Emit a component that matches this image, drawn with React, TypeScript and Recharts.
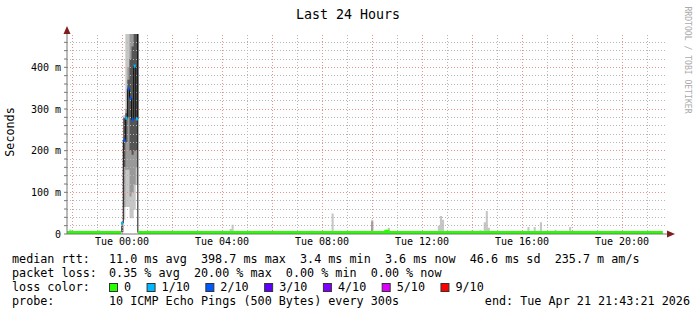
import React from "react";
import {
  ComposedChart,
  Area,
  Line,
  XAxis,
  YAxis,
  ReferenceLine,
  ReferenceDot,
} from "recharts";

const FONT = "'DejaVu Sans Mono', monospace";
const W = 697;
const H = 315;

// time axis in minutes relative to Tue 00:00, one sample every 5 minutes
const X_START = -132;
const X_END = 1308;
const STEP = 5;
const xLabelMinutes = [0, 240, 480, 720, 960, 1200];
const xLabels = ["Tue 00:00", "Tue 04:00", "Tue 08:00", "Tue 12:00", "Tue 16:00", "Tue 20:00"];
const xMinorGrid = [-60, 60, 180, 300, 420, 540, 660, 780, 900, 1020, 1140, 1260];
const xMajorGrid = [-120, 0, 120, 240, 360, 480, 600, 720, 840, 960, 1080, 1200];

// value axis in ms
const Y_MAX = 480;
const yTicks = [0, 20, 40, 60, 80, 100, 120, 140, 160, 180, 200, 220, 240, 260, 280, 300, 320, 340, 360, 380, 400, 420, 440, 460];
const yLabelValues = [0, 100, 200, 300, 400];
const yLabels = ["0", "100 m", "200 m", "300 m", "400 m"];
const yMinorGrid = [20, 40, 60, 80, 120, 140, 160, 180, 220, 240, 260, 280, 320, 340, 360, 380, 420, 440, 460];
const yMajorGrid = [100, 200, 300, 400];

// median rtt outside the outage
const BASE = 3.5;
const medianEnd = 1298;
const bumpMinutes = [633];
const bumpValues = [6.5];

// isolated smoke spikes (sample start, max ping in ms)
const spikeMinutes = [-127, -122, -57, 258, 263, 393, 453, 503, 598, 633, 638, 758, 763, 768, 773, 838, 843, 858, 868, 873, 878, 918, 943, 973, 988, 998, 1003, 1008, 1038, 1073, 1098, 1183, 1198];
const spikeMax = [11, 9, 9, 12, 22, 7, 8, 49, 34, 10, 15, 20, 43, 34, 7, 9, 5, 9, 28, 55, 15, 6, 6, 17, 17, 8, 28, 7, 10, 17, 6, 8, 6];
const denseSpikeMinutes = [598];
const denseSpikeMax = [30];

// the outage just after midnight
const eventMinutes = [-2, 3, 8, 13, 18, 23, 28, 33];
const eventEnd = 38;
const eventMedian = [26, 225, 278, 348, 326, 274, 403, 276];
const eventLoss = [1, 2, 1, 2, 2, 2, 1, 1];
const eventOuter: [number, number][] = [[3.5, 26], [34, 285], [65, 480], [65, 480], [38, 480], [38, 480], [58, 480], [118, 480]];
const eventMid: [number, number][] = [[3.5, 24], [65, 281], [154, 300], [154, 400], [90, 480], [100, 480], [118, 480], [160, 480]];
const eventCore: [number, number][] = [[5, 20], [161, 278], [220, 290], [280, 370], [200, 420], [190, 450], [200, 480], [200, 480]];
const edgeTop = 480;

// legend
const lossSteps = [0, 1, 2, 3, 4, 5, 9];
const lossLabels = ["0", "1/10", "2/10", "3/10", "4/10", "5/10", "9/10"];
const lossColors = ["#26ff00", "#00b8ff", "#0059ff", "#5e00ff", "#7e00ff", "#dd00ff", "#ff0000"];
const rttStats = ["11.0 ms avg", "398.7 ms max", "3.4 ms min", "3.6 ms now", "46.6 ms sd", "235.7 m am/s"];
const lossStats = ["0.35 % avg", "20.00 % max", "0.00 % min", "0.00 % now"];
const probeText = "10 ICMP Echo Pings (500 Bytes) every 300s";
const endText = "end: Tue Apr 21 21:43:21 2026";

type Band = [number, number];
type Row = { m: number; L: Band; M: Band; D: Band };

const rowMap = new Map<number, Row>();
const row = (m: number) => {
  if (!rowMap.has(m)) rowMap.set(m, { m, L: [BASE, BASE], M: [BASE, BASE], D: [BASE, BASE] });
  return rowMap.get(m)!;
};
row(X_START);
row(X_END);
spikeMinutes.forEach((m) => row(m + STEP));
row(eventEnd);
spikeMinutes.forEach((m, i) => {
  row(m).L = [BASE, spikeMax[i]];
});
denseSpikeMinutes.forEach((m, i) => {
  row(m).M = [BASE, denseSpikeMax[i]];
});
eventMinutes.forEach((m, i) => {
  const r = row(m);
  r.L = eventOuter[i];
  r.M = eventMid[i];
  r.D = eventCore[i];
});
const smoke = [...rowMap.values()].sort((a, b) => a.m - b.m);

const medianLine = [
  { m: X_START, v: BASE },
  { m: eventMinutes[0], v: BASE },
  { m: eventMinutes[0], v: null },
  { m: eventEnd, v: null },
  { m: eventEnd, v: BASE },
  ...bumpMinutes.flatMap((m, i) => [
    { m, v: bumpValues[i] },
    { m: m + STEP, v: BASE },
  ]),
  { m: medianEnd, v: BASE },
];

const rttEdge = [
  ...eventMinutes.map((m, i) => ({ m, v: eventMedian[i] })),
  { m: eventEnd, v: edgeTop },
  { m: eventEnd, v: BASE },
];

const medianDots = eventMinutes.map((m, i) => ({ m: m + STEP / 2, v: eventMedian[i], loss: eventLoss[i] }));

const LossDot = (props: any) => {
  const { cx, cy, payload, index } = props;
  if (cx == null || cy == null) return <g key={`d-${index}`} />;
  const color = lossColors[lossSteps.indexOf(payload.loss)];
  return <rect key={`d-${index}`} x={cx - 1.1} y={cy - 1.5} width={2.2} height={3} fill={color} />;
};

const ARROW = "#7f1d1d";
const AXIS = "#777777";
const MINOR = "#b6b6b6";
const MAJOR = "#e99090";
const DASH = "1 2";

const UpArrow = (props: any) => (
  <polygon
    points={`${props.cx - 3.5},${props.cy} ${props.cx},${props.cy - 8} ${props.cx + 3.5},${props.cy}`}
    fill={ARROW}
  />
);
const RightArrow = (props: any) => (
  <polygon
    points={`${props.cx},${props.cy - 3.5} ${props.cx + 8},${props.cy} ${props.cx},${props.cy + 3.5}`}
    fill={ARROW}
  />
);

const CHAR = 7.07;
const COL = 109;

const Txt = (p: { x: number; y: number; anchor?: string; children: string }) => (
  <text x={p.x} y={p.y} textAnchor={p.anchor ?? "start"} xmlSpace="preserve" style={{ whiteSpace: "pre" }}>
    {p.children}
  </text>
);

export default function App() {
  let sx = COL;
  const squares = lossLabels.map((label, i) => {
    const x = sx;
    sx += 15 + label.length * CHAR + 15.5;
    return { x, label, color: lossColors[i] };
  });

  return (
    <div style={{ position: "absolute", left: 0, top: 0, width: W, height: H, background: "#fff" }}>
      <ComposedChart
        width={W}
        height={H}
        data={smoke}
        margin={{ top: 34, right: 30, bottom: 61, left: 0 }}
      >
        <XAxis
          dataKey="m"
          type="number"
          domain={[X_START, X_END]}
          allowDataOverflow
          ticks={xLabelMinutes}
          tickFormatter={(m: number) => xLabels[xLabelMinutes.indexOf(m)] ?? ""}
          tickLine={false}
          tickSize={2}
          tickMargin={2}
          height={20}
          axisLine={{ stroke: AXIS }}
          tick={{ fill: "#000", fontSize: 10, fontFamily: FONT }}
        />
        <YAxis
          type="number"
          domain={[0, Y_MAX]}
          allowDataOverflow
          ticks={yTicks}
          interval={0}
          tickFormatter={(v: number) => yLabels[yLabelValues.indexOf(v)] ?? ""}
          tickSize={3}
          tickMargin={3}
          width={67}
          axisLine={{ stroke: AXIS }}
          tickLine={{ stroke: AXIS }}
          tick={{ fill: "#000", fontSize: 10, fontFamily: FONT }}
        />
        {yMinorGrid.map((v) => (
          <ReferenceLine key={`hm${v}`} y={v} stroke={MINOR} strokeDasharray={DASH} shapeRendering="crispEdges" />
        ))}
        {xMinorGrid.map((m) => (
          <ReferenceLine key={`vm${m}`} x={m} stroke={MINOR} strokeDasharray={DASH} shapeRendering="crispEdges" />
        ))}
        {yMajorGrid.map((v) => (
          <ReferenceLine key={`hM${v}`} y={v} stroke={MAJOR} strokeDasharray={DASH} shapeRendering="crispEdges" />
        ))}
        {xMajorGrid.map((m) => (
          <ReferenceLine key={`vM${m}`} x={m} stroke={MAJOR} strokeDasharray={DASH} shapeRendering="crispEdges" />
        ))}
        <Area dataKey="L" type="stepAfter" stroke="none" fill="#c6c6c6" fillOpacity={1} isAnimationActive={false} dot={false} activeDot={false} />
        <Area dataKey="M" type="stepAfter" stroke="none" fill="#999999" fillOpacity={1} isAnimationActive={false} dot={false} activeDot={false} />
        <Area dataKey="D" type="stepAfter" stroke="none" fill="#555555" fillOpacity={1} isAnimationActive={false} dot={false} activeDot={false} />
        <Line
          data={rttEdge}
          dataKey="v"
          type="stepAfter"
          stroke="#111"
          strokeWidth={1}
          dot={false}
          activeDot={false}
          isAnimationActive={false}
        />
        <Line
          data={medianLine}
          dataKey="v"
          type="stepAfter"
          stroke={lossColors[0]}
          strokeWidth={3}
          dot={false}
          activeDot={false}
          isAnimationActive={false}
        />
        <Line
          data={medianDots}
          dataKey="v"
          stroke="none"
          dot={LossDot}
          activeDot={false}
          isAnimationActive={false}
        />
        <ReferenceDot x={X_START} y={Y_MAX} r={0} ifOverflow="visible" shape={UpArrow} />
        <ReferenceDot x={X_END} y={0} r={0} ifOverflow="visible" shape={RightArrow} />
      </ComposedChart>

      <svg
        width={W}
        height={H}
        style={{ position: "absolute", left: 0, top: 0, pointerEvents: "none" }}
        fontFamily={FONT}
      >
        <text x={348} y={18.5} fontSize={13.3} textAnchor="middle" fill="#000">
          Last 24 Hours
        </text>
        <text
          transform="translate(10,132) rotate(-90)"
          fontSize={11.75}
          textAnchor="middle"
          dominantBaseline="central"
          fill="#000"
        >
          Seconds
        </text>
        <text
          transform="translate(688,60) rotate(90)"
          fontSize={8.1}
          textAnchor="middle"
          dominantBaseline="central"
          fill="#aaaaaa"
        >
          RRDTOOL / TOBI OETIKER
        </text>

        <g fontSize={11.75} fill="#000">
          <Txt x={12} y={263}>median rtt:</Txt>
          <Txt x={COL} y={263}>{rttStats.join("  ")}</Txt>
          <Txt x={12} y={277}>packet loss:</Txt>
          <Txt x={COL} y={277}>{lossStats.join("  ")}</Txt>
          <Txt x={12} y={291}>loss color:</Txt>
          {squares.map((s) => (
            <g key={s.label}>
              <rect x={s.x + 0.5} y={283.5} width={8} height={8} fill={s.color} stroke="#333" strokeWidth={1} />
              <Txt x={s.x + 15} y={291}>{s.label}</Txt>
            </g>
          ))}
          <Txt x={12} y={305}>probe:</Txt>
          <Txt x={COL} y={305}>{probeText}</Txt>
          <Txt x={690} y={305} anchor="end">{endText}</Txt>
        </g>
      </svg>
    </div>
  );
}
